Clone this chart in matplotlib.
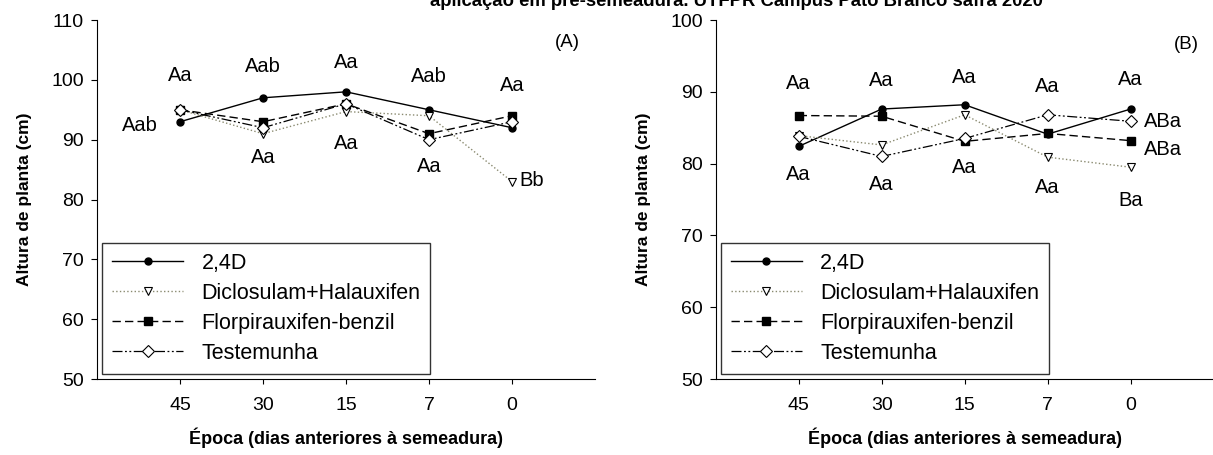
import matplotlib.pyplot as plt

plt.rcParams['font.family'] = ['Liberation Sans', 'DejaVu Sans']

epocas = ['45', '30', '15', '7', '0']
tratamentos = ['2,4D', 'Diclosulam+Halauxifen', 'Florpirauxifen-benzil', 'Testemunha']

# (A) altura de planta
a_24d = [93, 97, 98, 95, 92]
a_diclo = [95, 91, 94.7, 94, 83]
a_florp = [95, 93, 96, 91, 94]
a_test = [95, 92, 96, 90, 93]

# (B) altura de planta
b_24d = [82.4, 87.6, 88.2, 84.1, 87.6]
b_diclo = [83.9, 82.6, 86.8, 80.9, 79.5]
b_florp = [86.7, 86.6, 83.1, 84.2, 83.2]
b_test = [83.8, 81.0, 83.5, 86.8, 85.9]

# letras (texto, x, y)
a_letras = [('Aa', 1, 100.8), ('Aab', 2, 102.2), ('Aa', 3, 102.9), ('Aab', 4, 100.5), ('Aa', 5, 99.1),
            ('Aab', 0.52, 92.3), ('Aa', 2, 87.0), ('Aa', 3, 89.4), ('Aa', 4, 85.6), ('Bb', 5.24, 83.1)]
b_letras = [('Aa', 1, 91.2), ('Aa', 2, 91.6), ('Aa', 3, 92.0), ('Aa', 4, 90.7), ('Aa', 5, 91.7),
            ('Aa', 1, 78.5), ('Aa', 2, 77.1), ('Aa', 3, 79.5), ('Aa', 4, 76.7), ('Ba', 5, 74.9),
            ('ABa', 5.39, 85.8), ('ABa', 5.39, 82.0)]

estilos = [
    dict(color='black', ls='-', lw=1.0, marker='o', ms=5, mfc='black', mec='black'),
    dict(color='#8a8a70', ls=':', lw=1.0, marker='v', ms=6, mfc='white', mec='black', mew=0.8),
    dict(color='black', ls=(0, (6, 3)), lw=1.0, marker='s', ms=6, mfc='black', mec='black'),
    dict(color='black', ls=(0, (8, 2, 1.5, 2, 1.5, 2)), lw=0.9, marker='D', ms=6, mfc='white', mec='black', mew=0.8),
]

fig = plt.figure(figsize=(12.13, 4.55), dpi=100)
axA = fig.add_axes([0.080, 0.167, 0.4105, 0.789])
axB = fig.add_axes([0.590, 0.167, 0.4105, 0.789])

x = list(range(1, 6))
for ax, series, letras, ymax, tag, tagpos in [
        (axA, [a_24d, a_diclo, a_florp, a_test], a_letras, 110, '(A)', (5.67, 106.3)),
        (axB, [b_24d, b_diclo, b_florp, b_test], b_letras, 100, '(B)', (5.67, 96.6))]:
    for nome, vals, st in zip(tratamentos, series, estilos):
        ax.plot(x, vals, label=nome, **st)
    for txt, xx, yy in letras:
        ax.text(xx, yy, txt, ha='center', va='center', fontsize=14.5)
    ax.text(tagpos[0], tagpos[1], tag, ha='center', va='center', fontsize=13.5)
    ax.set_xlim(0, 6)
    ax.set_ylim(50, ymax)
    ax.set_xticks(x)
    ax.set_xticklabels(epocas)
    ax.set_yticks(range(50, ymax + 1, 10))
    ax.spines['top'].set_visible(False)
    ax.spines['right'].set_visible(False)
    ax.tick_params(axis='x', length=3.6, pad=9, labelsize=14)
    ax.tick_params(axis='y', length=4.3, pad=5, labelsize=14)
    ax.set_xlabel('Época (dias anteriores à semeadura)', fontsize=13, fontweight='bold', labelpad=10)
    ax.set_ylabel('Altura de planta (cm)', fontsize=12.5, fontweight='bold', labelpad=14)
    leg = ax.legend(loc='lower left', bbox_to_anchor=(0.0, 0.0), fontsize=15.5, frameon=True,
                    fancybox=False, edgecolor='black', handlelength=3.3, borderpad=0.45,
                    labelspacing=0.42, handletextpad=0.85, borderaxespad=0.25)
    leg.get_frame().set_linewidth(1.0)

fig.text(0.607, 1 - 6 / 455, 'aplicação em pré-semeadura. UTFPR Campus Pato Branco safra 2020',
         ha='center', va='baseline', fontsize=13.3, fontweight='bold')

fig.savefig('out.png', dpi=100)
